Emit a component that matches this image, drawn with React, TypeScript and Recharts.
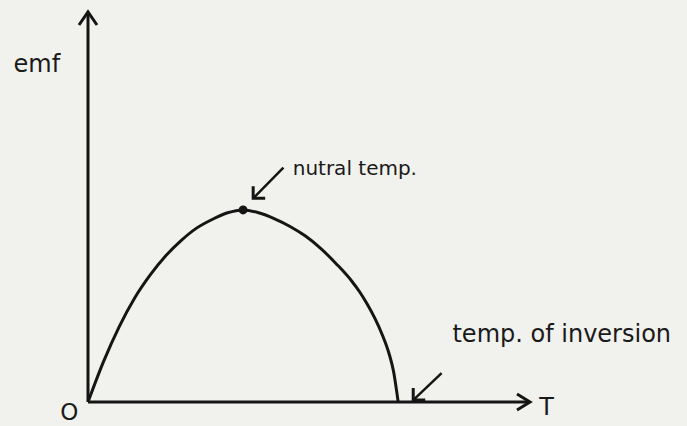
import { LineChart, Line, XAxis, YAxis, ReferenceLine, ReferenceDot } from "recharts";

// curve: T in arbitrary units (neutral temp = 10), emf normalised to 10 at peak
const temps = [0, 1, 2, 3, 4, 5, 6, 7, 8, 9, 10, 11, 12, 13, 14, 15, 16, 17, 17.5, 18, 18.5, 19, 19.4, 19.7, 20];
const emfValues = [0, 2.1, 3.9, 5.4, 6.6, 7.6, 8.4, 9.05, 9.5, 9.85, 10, 9.85, 9.55, 9.15, 8.65, 8.0, 7.2, 6.3, 5.75, 5.1, 4.35, 3.45, 2.55, 1.6, 0];

const tMax = 28.5;
const emfMax = 20.3;
const neutralPoint = { t: 10, emf: 10 };

// annotation arrows: [tail, head] in data units
const neutralArrow = [{ x: 12.6, y: 12.2 }, { x: 10.65, y: 10.6 }];
const inversionArrow = [{ x: 22.8, y: 1.5 }, { x: 20.97, y: 0.1 }];

const labelTexts = ["emf", "nutral temp.", "temp. of inversion", "O", "T"];
const labelT = [-4.8, 13.2, 23.5, -1.2, 29.1];
const labelEmf = [17.2, 11.8, 3.1, -0.95, -0.7];

const curve = temps.map((t, i) => ({ t, emf: emfValues[i] }));

const INK = "#151515";

const chevron = (dx1: number, dy1: number, dx2: number, dy2: number) => (p: any) => (
  <path
    d={`M${p.cx + dx1},${p.cy + dy1} L${p.cx},${p.cy} L${p.cx + dx2},${p.cy + dy2}`}
    fill="none"
    stroke={INK}
    strokeWidth={3}
    strokeLinejoin="miter"
  />
);

const labelStyle: Record<string, { size: number; anchor: "start" | "middle" }> = {
  emf: { size: 24, anchor: "start" },
  "nutral temp.": { size: 20, anchor: "start" },
  "temp. of inversion": { size: 24, anchor: "start" },
  O: { size: 23, anchor: "middle" },
  T: { size: 24, anchor: "start" },
};

export default function App() {
  return (
    <div
      style={{
        position: "absolute",
        left: 0,
        top: 0,
        width: 687,
        height: 426,
        background: "#f1f1ed",
        overflow: "hidden",
      }}
    >
      <LineChart
        width={687}
        height={426}
        data={curve}
        margin={{ top: 12, right: 157, bottom: 24, left: 88 }}
      >
        <XAxis type="number" dataKey="t" domain={[0, tMax]} allowDataOverflow hide />
        <YAxis type="number" domain={[0, emfMax]} allowDataOverflow hide />

        <ReferenceLine
          segment={[{ x: 0, y: 0 }, { x: tMax, y: 0 }]}
          stroke={INK}
          strokeWidth={3}
          ifOverflow="visible"
        />
        <ReferenceLine
          segment={[{ x: 0, y: 0 }, { x: 0, y: emfMax }]}
          stroke={INK}
          strokeWidth={3}
          ifOverflow="visible"
        />
        <ReferenceDot x={tMax} y={0} ifOverflow="visible" shape={chevron(-13, -8, -13, 8)} />
        <ReferenceDot x={0} y={emfMax} ifOverflow="visible" shape={chevron(-9, 13, 9, 13)} />

        <Line
          dataKey="emf"
          type="monotone"
          stroke={INK}
          strokeWidth={3}
          dot={false}
          activeDot={false}
          isAnimationActive={false}
        />
        <ReferenceDot
          x={neutralPoint.t}
          y={neutralPoint.emf}
          r={4.5}
          fill={INK}
          stroke="none"
          ifOverflow="visible"
        />

        <ReferenceLine segment={neutralArrow} stroke={INK} strokeWidth={2.5} ifOverflow="visible" />
        <ReferenceDot
          x={neutralArrow[1].x}
          y={neutralArrow[1].y}
          ifOverflow="visible"
          shape={chevron(0, -12, 12, 0)}
        />
        <ReferenceLine segment={inversionArrow} stroke={INK} strokeWidth={2.5} ifOverflow="visible" />
        <ReferenceDot
          x={inversionArrow[1].x}
          y={inversionArrow[1].y}
          ifOverflow="visible"
          shape={chevron(0, -12, 12, 0)}
        />

        {labelTexts.map((text, i) => (
          <ReferenceDot
            key={text}
            x={labelT[i]}
            y={labelEmf[i]}
            ifOverflow="visible"
            shape={(p: any) => (
              <text
                x={p.cx}
                y={p.cy}
                fontFamily="'DejaVu Sans', sans-serif"
                fontSize={labelStyle[text].size}
                textAnchor={labelStyle[text].anchor}
                fill="#1a1a1a"
              >
                {text}
              </text>
            )}
          />
        ))}
      </LineChart>
    </div>
  );
}
